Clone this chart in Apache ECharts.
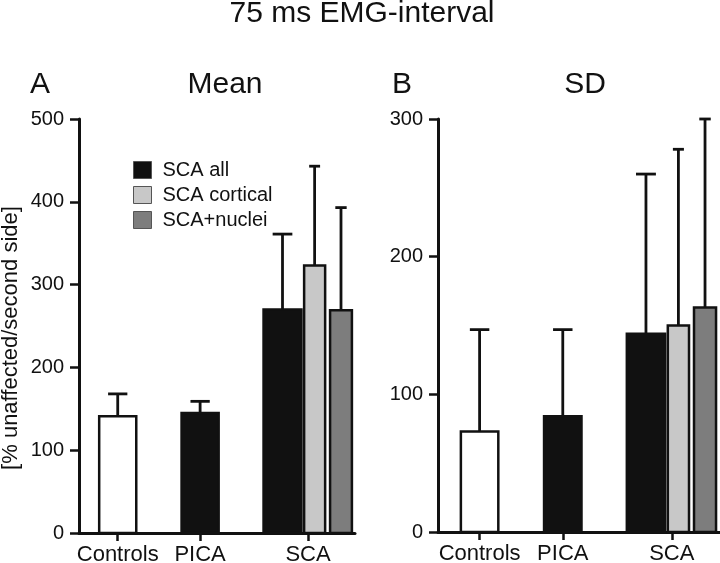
<!DOCTYPE html>
<html>
<head>
<meta charset="utf-8">
<script src="https://cdn.jsdelivr.net/npm/echarts/dist/echarts.min.js"></script>
<style>
  html, body { margin: 0; padding: 0; background: #ffffff; }
  #chart { width: 720px; height: 563px; }
</style>
</head>
<body>
<div id="chart"></div>
<script>
// ---------------- data ----------------
const chartTitle = '75 ms EMG-interval';
const panelTitles = ['Mean', 'SD'];
const panelLetters = ['A', 'B'];
const yAxisName = '[% unaffected/second side]';
const categories = ['Controls', 'PICA', 'SCA'];
const barNames = ['Controls', 'PICA', 'SCA all', 'SCA cortical', 'SCA+nuclei'];
const legendNames = ['SCA all', 'SCA cortical', 'SCA+nuclei'];
const meanValues = [141, 145, 270, 323, 269];
const meanErrorTops = [168, 159, 361, 443, 393];
const sdValues = [73, 84, 144, 150, 163];
const sdErrorTops = [147, 147, 260, 278, 300];
const meanTicks = [0, 100, 200, 300, 400, 500];
const sdTicks = [0, 100, 200, 300];

// ---------------- layout / style ----------------
const barX = [1, 2, 3.0, 3.39, 3.71];          // bar centres in x-axis units
const barW = [0.45, 0.45, 0.46, 0.255, 0.265]; // bar widths in x-axis units
const catX = [1, 2, 3.31];                     // category label positions
const fills = ['#ffffff', '#111111', '#111111', '#c8c8c8', '#7d7d7d'];
const ink = '#111111';
const fontFamily = '"Liberation Sans", Arial, Helvetica, sans-serif';

const panels = [
  { values: meanValues, errs: meanErrorTops, ticks: meanTicks,
    grid: { left: 79, top: 119, width: 276, height: 414 }, xmin: 0.53, xmax: 3.88, showName: true },
  { values: sdValues, errs: sdErrorTops, ticks: sdTicks,
    grid: { left: 438, top: 119, width: 282, height: 413 }, xmin: 0.5, xmax: 3.89, showName: false }
];

const grids = [], xAxes = [], yAxes = [], series = [];

panels.forEach((p, pi) => {
  grids.push(Object.assign({ containLabel: false, outerBoundsMode: 'none' }, p.grid));
  xAxes.push({
    type: 'value', gridIndex: pi, min: p.xmin, max: p.xmax,
    axisLine: { show: true, onZero: false, lineStyle: { color: ink, width: 3 } },
    axisTick: { show: true, customValues: catX, length: 8, inside: false, lineStyle: { color: ink, width: 2.5 } },
    axisLabel: {
      show: true, customValues: catX, margin: 11, fontSize: 22, color: ink, fontFamily: fontFamily,
      formatter: function (v) {
        let best = 0, bd = Infinity;
        catX.forEach((c, i) => { const d = Math.abs(c - v); if (d < bd) { bd = d; best = i; } });
        return categories[best];
      }
    },
    splitLine: { show: false }
  });
  yAxes.push({
    type: 'value', gridIndex: pi, min: p.ticks[0], max: p.ticks[p.ticks.length - 1], interval: p.ticks[1] - p.ticks[0],
    name: p.showName ? yAxisName : '',
    nameLocation: 'middle', nameRotate: 90, nameGap: 57,
    nameTextStyle: { fontSize: 22, color: ink, fontFamily: fontFamily, padding: [0, 24, 0, 0] },
    axisLine: { show: true, lineStyle: { color: ink, width: 3 } },
    axisTick: { show: true, length: 9, inside: false, lineStyle: { color: ink, width: 2.5 } },
    axisLabel: { margin: 15, fontSize: 20, color: ink, fontFamily: fontFamily },
    splitLine: { show: false }
  });

  barNames.forEach((name, i) => {
    series.push({
      type: 'custom',
      name: name,
      xAxisIndex: pi,
      yAxisIndex: pi,
      clip: false,
      itemStyle: { color: fills[i] },
      data: [[barX[i], p.values[i], p.errs[i]]],
      renderItem: function (params, api) {
        const x = api.value(0), v = api.value(1), e = api.value(2);
        const base = api.coord([x, 0]);
        const top = api.coord([x, v]);
        const err = api.coord([x, e]);
        const w = api.size([barW[i], 0])[0];
        const cap = w * 0.52;
        return {
          type: 'group',
          children: [
            { type: 'line', shape: { x1: top[0], y1: err[1], x2: top[0], y2: top[1] },
              style: { stroke: ink, lineWidth: 2.8 } },
            { type: 'line', shape: { x1: top[0] - cap / 2, y1: err[1], x2: top[0] + cap / 2, y2: err[1] },
              style: { stroke: ink, lineWidth: 2.8 } },
            { type: 'rect', shape: { x: top[0] - w / 2, y: top[1], width: w, height: base[1] - top[1] },
              style: { fill: fills[i], stroke: ink, lineWidth: 2.5 } }
          ]
        };
      }
    });
  });
});

const textStyleBig = { fontSize: 30, fill: ink, fontFamily: fontFamily };

const option = {
  backgroundColor: '#ffffff',
  animation: false,
  grid: grids,
  xAxis: xAxes,
  yAxis: yAxes,
  legend: {
    data: legendNames,
    orient: 'vertical',
    left: 133, top: 160,
    padding: 0,
    itemWidth: 18, itemHeight: 17, itemGap: 5,
    icon: 'rect',
    itemStyle: { borderColor: '#555', borderWidth: 1 },
    textStyle: { fontSize: 20, color: ink, fontFamily: fontFamily, padding: [0, 0, 0, 6] },
    selectedMode: false
  },
  graphic: [
    { type: 'text', x: 362, y: 14, style: Object.assign({ text: chartTitle, align: 'center', verticalAlign: 'middle' }, textStyleBig) },
    { type: 'text', x: 30, y: 85, style: Object.assign({ text: panelLetters[0], align: 'left', verticalAlign: 'middle' }, textStyleBig) },
    { type: 'text', x: 225, y: 85, style: Object.assign({ text: panelTitles[0], align: 'center', verticalAlign: 'middle' }, textStyleBig) },
    { type: 'text', x: 392, y: 85, style: Object.assign({ text: panelLetters[1], align: 'left', verticalAlign: 'middle' }, textStyleBig) },
    { type: 'text', x: 585, y: 85, style: Object.assign({ text: panelTitles[1], align: 'center', verticalAlign: 'middle' }, textStyleBig) }
  ],
  series: series
};

const chart = echarts.init(document.getElementById('chart'), null, { renderer: 'canvas' });
chart.setOption(option);
</script>
</body>
</html>
